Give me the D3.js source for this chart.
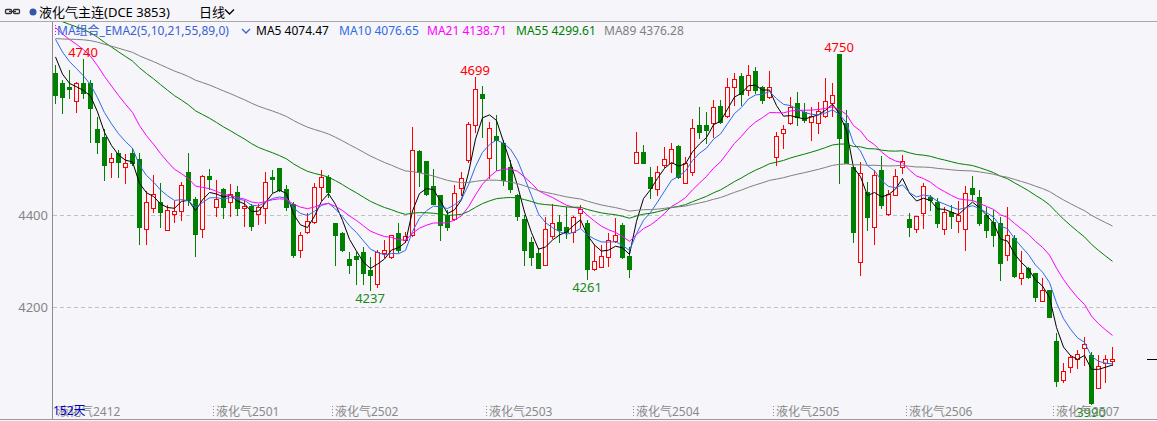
<!DOCTYPE html>
<html><head><meta charset="utf-8">
<script src="https://cdn.jsdelivr.net/npm/d3@7/dist/d3.min.js"></script>
<style>
html,body{margin:0;padding:0;background:#f5f5fa;}
svg{display:block;}
text{font-family:"Noto Sans","Noto Sans CJK SC",sans-serif;}
</style></head>
<body><svg id="chart" width="1157" height="421"></svg>
<script>
// ---------------- data ----------------
const candleOpen = [4708,4688,4679,4648,4686,4686,4586,4570,4516,4535,4505,4534,4522,4369,4415,4429,4367,4402,4408,4493,
4434,4369,4485,4417,4456,4429,4451,4415,4420,4402,4415,4483,4503,4456,4424,4324,4364,4385,4460,4483,
4382,4360,4304,4311,4320,4280,4251,4318,4309,4360,4346,4357,4539,4518,4462,4443,4400,4391,4458,4520,
4596,4662,4525,4572,4556,4505,4443,4391,4342,4317,4291,4354,4385,4375,4364,4404,4383,4283,4288,4309,
4344,4378,4311,4512,4538,4483,4456,4509,4512,4550,4470,4494,4596,4596,4599,4637,4615,4678,4702,4672,
4713,4679,4656,4527,4579,4599,4644,4625,4603,4601,4615,4643,4750,4599,4505,4298,4451,4375,4498,4402,
4443,4504,4391,4369,4404,4440,4429,4369,4407,4388,4369,4459,4440,4400,4385,4383,4313,4351,4262,4284,
4273,4214,4237,4126,4041,4070,4088,4110,4096,4025,4079,4083];
const candleHigh = [4726,4694,4715,4690,4740,4693,4614,4588,4534,4541,4532,4546,4534,4453,4487,4469,4422,4431,4471,4534,
4440,4487,4499,4476,4458,4467,4463,4433,4425,4424,4494,4498,4503,4465,4429,4364,4404,4469,4498,4487,
4382,4362,4320,4320,4331,4309,4324,4346,4357,4382,4364,4592,4541,4518,4501,4443,4411,4465,4494,4602,
4699,4680,4603,4617,4563,4520,4445,4400,4353,4328,4395,4425,4400,4418,4398,4422,4389,4335,4335,4360,
4393,4382,4331,4581,4552,4505,4507,4547,4556,4552,4527,4608,4635,4625,4650,4650,4697,4708,4708,4726,
4722,4680,4713,4581,4596,4656,4668,4644,4635,4646,4697,4686,4750,4628,4505,4516,4472,4498,4528,4454,
4501,4530,4404,4398,4469,4443,4437,4418,4422,4430,4462,4485,4454,4418,4411,4395,4418,4357,4322,4288,
4273,4262,4237,4143,4079,4096,4107,4135,4103,4096,4096,4114];
const candleLow = [4644,4621,4654,4625,4654,4559,4534,4476,4483,4483,4470,4509,4336,4336,4407,4375,4367,4385,4389,4422,
4311,4353,4456,4398,4393,4398,4400,4376,4367,4380,4383,4451,4452,4411,4308,4309,4360,4382,4433,4440,
4291,4322,4275,4251,4251,4237,4244,4309,4306,4320,4342,4354,4462,4443,4424,4346,4367,4389,4443,4515,
4581,4570,4480,4498,4465,4450,4389,4291,4291,4284,4291,4349,4342,4349,4342,4375,4261,4280,4286,4289,
4341,4306,4265,4512,4512,4436,4443,4505,4494,4481,4469,4487,4567,4556,4570,4599,4614,4639,4639,4661,
4665,4643,4654,4509,4545,4598,4596,4603,4563,4579,4614,4615,4470,4512,4342,4270,4367,4336,4415,4400,
4443,4492,4354,4362,4372,4411,4375,4358,4371,4362,4325,4433,4378,4353,4333,4259,4302,4266,4251,4262,
4214,4214,4178,4029,4038,4059,4067,4074,3990,4023,4038,4074];
const candleClose = [4661,4656,4673,4686,4665,4632,4559,4509,4525,4516,4514,4514,4375,4428,4445,4407,4410,4408,4465,4433,
4358,4485,4478,4434,4418,4445,4415,4420,4376,4417,4471,4479,4454,4418,4313,4357,4387,4460,4483,4451,
4357,4324,4291,4304,4273,4270,4320,4325,4357,4324,4354,4541,4494,4446,4425,4378,4375,4448,4480,4597,
4675,4654,4590,4563,4476,4456,4398,4324,4309,4285,4369,4382,4367,4362,4395,4412,4282,4301,4311,4346,
4356,4309,4282,4536,4514,4458,4494,4521,4543,4483,4514,4590,4581,4584,4634,4603,4678,4695,4663,4704,
4672,4650,4678,4572,4586,4635,4612,4607,4615,4626,4648,4661,4567,4514,4364,4491,4396,4487,4422,4446,
4485,4517,4375,4398,4462,4433,4382,4407,4398,4400,4447,4446,4382,4367,4357,4295,4357,4267,4273,4266,
4222,4237,4179,4039,4061,4092,4097,4119,3991,4072,4088,4088];
// closes before the first visible bar (not drawn as candles): estimated from where the
// long averages enter the picture, needed to start the 55 / 89 bar averages
const priorCloses = [4380,4400,4390,4420,4410,4430,4400,4420,4440,4430,4410,4390,4420,4450,4440,4460,4430,4420,4450,4470,
4460,4440,4470,4490,4480,4500,4520,4510,4540,4560,4590,4620,4650,4680,
4700,4740,4780,4820,4850,4880,4900,4930,4910,4880,4860,4890,4920,4900,4870,4850,4880,4900,4870,4840,
4860,4880,4850,4830,4860,4880,4850,4830,4820,4850,4870,4840,4810,4790,
4760,4790,4770,4800,4820,4790,4810,4840,4830,4850,4870,4860,4850,4860,4840,4830,4830,4800,4780,4770];

const maPeriods = [5, 10, 21, 55, 89];
const maNames = ["MA5", "MA10", "MA21", "MA55", "MA89"];
const maLegendValues = ["4074.47", "4076.65", "4138.71", "4299.61", "4376.28"];
const yTickValues = [4200, 4400];
const contractLabels = ["液化气2412","液化气2501","液化气2502","液化气2503","液化气2504","液化气2505","液化气2506","液化气2507"];
const contractStartBar = [0, 23, 40, 62, 83, 103, 122, 143];
const highMarks = [4, 60, 112];
const lowMarks = [45, 76, 148];
const titleText = "液化气主连(DCE 3853)";
const periodText = "日线";
const indicatorText = "MA组合_EMA2(5,10,21,55,89,0)";
const barCountText = "152天";

// ---------------- style ----------------
const BG = "#f5f5fa";
const UP = "#ff0000", DOWN = "#007f00";
const maColors = ["#000000", "#2f6be6", "#ff00ff", "#008000", "#808080"];
const W = 1157, H = 421;
const plotLeft = 52, plotTop = 22, plotBottom = 419;

const svg = d3.select("#chart");
svg.append("rect").attr("width", W).attr("height", H).attr("fill", BG);

const n = candleClose.length;
const x = d3.scaleBand().domain(d3.range(n)).range([51.5, 51.5 + 7 * n]);
const cx = i => Math.round(x(i) + x.bandwidth() / 2);
const y = d3.scaleLinear().domain([4200, 4400]).range([307, 215]);

// header
svg.append("line").attr("x1", 0).attr("x2", W).attr("y1", 21.5).attr("y2", 21.5).attr("stroke", "#a8a8a8");
svg.append("line").attr("x1", plotLeft + 0.5).attr("x2", plotLeft + 0.5).attr("y1", 22).attr("y2", plotBottom).attr("stroke", "#8c8c8c");
svg.append("line").attr("x1", 0).attr("x2", W).attr("y1", plotBottom + 0.5).attr("y2", plotBottom + 0.5).attr("stroke", "#9a9a9a");

const icon = svg.append("g").attr("fill", "none").attr("stroke", "#333").attr("stroke-width", 1.3);
icon.append("rect").attr("x", 5.5).attr("y", 9.5).attr("width", 6).attr("height", 4).attr("rx", 1);
icon.append("rect").attr("x", 13.5).attr("y", 9.5).attr("width", 6).attr("height", 4).attr("rx", 1);
icon.append("line").attr("x1", 9).attr("x2", 16).attr("y1", 11.5).attr("y2", 11.5);
svg.append("circle").attr("cx", 33).attr("cy", 12).attr("r", 3.5).attr("fill", "#3457a8");
svg.append("text").attr("x", 39).attr("y", 17).attr("font-size", 13).attr("fill", "#000").text(titleText);
svg.append("text").attr("x", 199).attr("y", 17).attr("font-size", 13).attr("fill", "#000").text(periodText);
svg.append("path").attr("d", "M225,9.5 L229.5,14 L234,9.5").attr("fill", "none").attr("stroke", "#000").attr("stroke-width", 1.3);

// grid + y labels
const gGrid = svg.append("g");
gGrid.selectAll("line").data(yTickValues).join("line")
  .attr("x1", plotLeft + 1).attr("x2", W)
  .attr("y1", d => Math.round(y(d)) + 0.5).attr("y2", d => Math.round(y(d)) + 0.5)
  .attr("stroke", "#c0c0c0").attr("stroke-dasharray", "4,3");
const yAxis = d3.axisLeft(y).tickValues(yTickValues).tickSize(0).tickPadding(0).tickFormat(d3.format("d"));
const gY = svg.append("g").attr("transform", `translate(${plotLeft - 4},0)`).call(yAxis);
gY.select(".domain").remove();
gY.selectAll("text").attr("font-size", 13).attr("fill", "#858585").attr("font-family", "Noto Sans, sans-serif");

// candles
const gC = svg.append("g").attr("shape-rendering", "crispEdges");
d3.range(n).forEach(i => {
  const o = candleOpen[i], c = candleClose[i], h = candleHigh[i], l = candleLow[i];
  const up = c >= o;
  const col = up ? UP : DOWN;
  const px = cx(i);
  const yh = Math.round(y(h)), yl = Math.round(y(l));
  const yt = Math.round(y(Math.max(o, c))), yb = Math.round(y(Math.min(o, c)));
  gC.append("line").attr("x1", px + 0.5).attr("x2", px + 0.5).attr("y1", yh).attr("y2", yl + 1).attr("stroke", col);
  if (up) {
    gC.append("rect").attr("x", px - 1.5).attr("y", yt + 0.5).attr("width", 4).attr("height", Math.max(1, yb - yt))
      .attr("fill", BG).attr("stroke", col);
  } else {
    gC.append("rect").attr("x", px - 2).attr("y", yt).attr("width", 5).attr("height", Math.max(1, yb - yt + 1)).attr("fill", col);
  }
});

// moving averages: linearly weighted averages of the closes
const allCloses = priorCloses.concat(candleClose);
const off = priorCloses.length;
svg.append("clipPath").attr("id", "plotClip").append("rect")
  .attr("x", plotLeft + 1).attr("y", plotTop).attr("width", W - plotLeft).attr("height", plotBottom - plotTop);
const gMA = svg.append("g").attr("clip-path", "url(#plotClip)");
maPeriods.forEach((p, k) => {
  const vals = d3.range(n).map(i => {
    let s = 0, ws = 0;
    for (let j = 0; j < p; j++) {
      const idx = off + i - j;
      if (idx < 0) break;
      const w = p - j;
      s += w * allCloses[idx]; ws += w;
    }
    return s / ws;
  });
  const line = d3.line().x((v, i) => cx(i) + 0.5).y(v => y(v));
  gMA.append("path").attr("d", line(vals)).attr("fill", "none").attr("stroke", maColors[k]).attr("stroke-width", 1);
});

// last price marker
svg.append("line").attr("x1", 1147).attr("x2", W).attr("y1", Math.round(y(candleClose[n - 1])) + 0.5)
  .attr("y2", Math.round(y(candleClose[n - 1])) + 0.5).attr("stroke", "#000");

// high / low marks
svg.selectAll("text.hi").data(highMarks).join("text").attr("class", "hi")
  .attr("x", i => cx(i)).attr("y", i => y(candleHigh[i]) - 2).attr("text-anchor", "middle")
  .attr("font-size", 13).attr("fill", "#ff0000").text(i => candleHigh[i]);
svg.selectAll("text.lo").data(lowMarks).join("text").attr("class", "lo")
  .attr("x", i => cx(i)).attr("y", i => y(candleLow[i]) + 13).attr("text-anchor", "middle")
  .attr("font-size", 13).attr("fill", "#1a8a1a").text(i => candleLow[i]);

// bottom contract labels
const gX = svg.append("g");
contractStartBar.forEach((b, k) => {
  const bx = Math.round(x(b)) + (k === 0 ? 2 : 0);
  if (k > 0) gX.append("line").attr("x1", bx + 0.5).attr("x2", bx + 0.5).attr("y1", 406).attr("y2", 418)
    .attr("stroke", "#8a8a8a").attr("stroke-dasharray", "1,2");
  gX.append("text").attr("x", bx + 3).attr("y", 416).attr("font-size", 12).attr("fill", "#8a8a8a").text(contractLabels[k]);
});
svg.append("text").attr("x", 53).attr("y", 415).attr("font-size", 12).attr("fill", "#0000c8").text(barCountText);

// legend
const gL = svg.append("g").attr("font-size", 12);
gL.append("line").attr("x1", 55.5).attr("x2", 55.5).attr("y1", 25).attr("y2", 35).attr("stroke", "#ff00ff").attr("stroke-dasharray", "1,2");
gL.append("text").attr("x", 57).attr("y", 35).attr("fill", "#3a62d0").text(indicatorText);
gL.append("path").attr("d", "M242,29 L246,33 L250,29").attr("fill", "none").attr("stroke", "#3a62d0").attr("stroke-width", 1.3);
const legendX = [256, 339, 427, 516, 604];
maNames.forEach((nm, k) => {
  gL.append("text").attr("x", legendX[k]).attr("y", 35).attr("fill", maColors[k]).text(nm + " " + maLegendValues[k]);
});
</script></body></html>
